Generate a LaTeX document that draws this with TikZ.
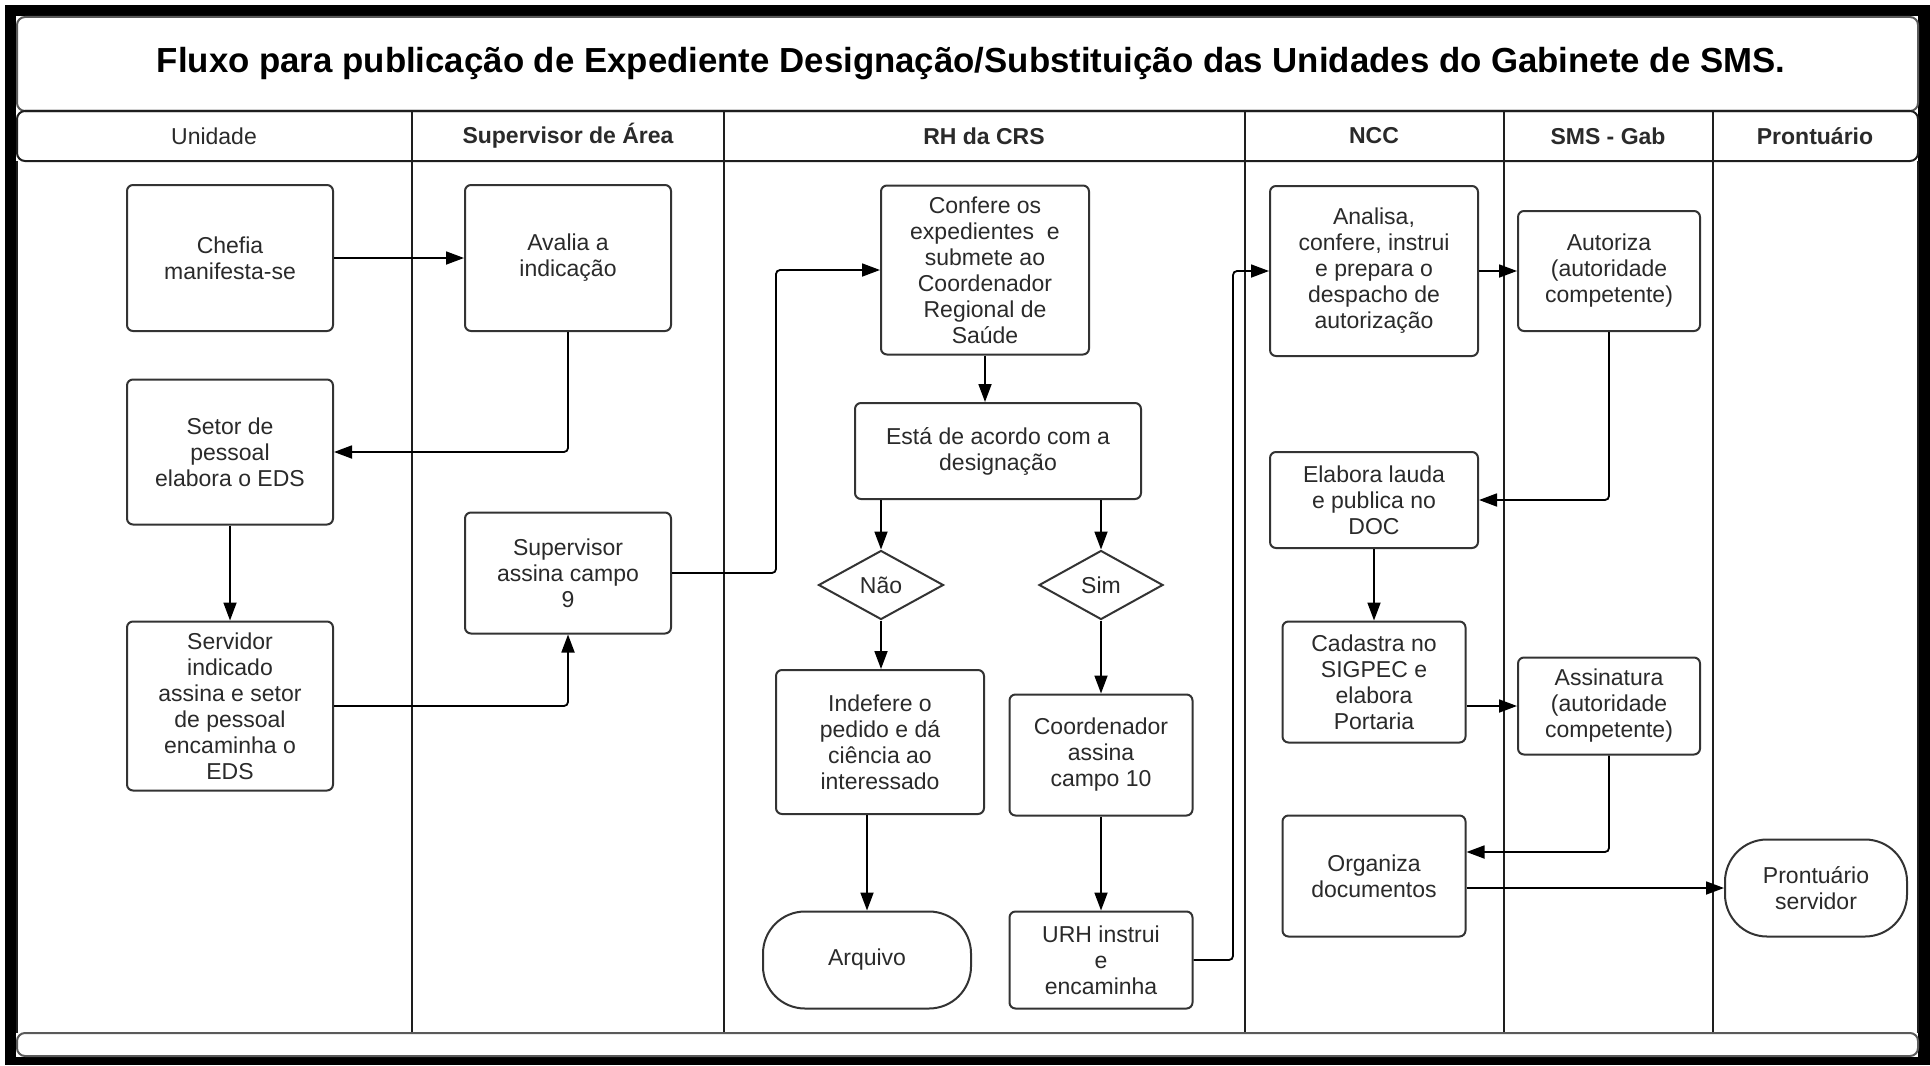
\documentclass[tikz,border=0pt]{standalone}
\usepackage{fontspec}
\setmainfont{Liberation Sans}
\usetikzlibrary{shapes.geometric,arrows.meta}
\definecolor{txt}{HTML}{2A2A2A}
\definecolor{lanec}{HTML}{1E1E1E}
\definecolor{framec}{HTML}{5A5A5A}
\begin{document}
\begin{tikzpicture}[x=0.5pt,y=-0.5pt,
  box/.style={draw=black!80, line width=1pt, rounded corners=3pt, align=center, text=txt,
    font=\fontsize{11.5}{13}\selectfont, inner sep=0pt},
  term/.style={box, rounded corners=21pt},
  dec/.style={box, rounded corners=0pt, shape=diamond, aspect=1.8},
  hdr/.style={text=txt, font=\bfseries\fontsize{11.5}{13}\selectfont},
  lane/.style={draw=lanec, line width=1pt},
  conn/.style={draw=black, line width=0.9pt, rounded corners=2pt,
    -{Triangle[length=9pt,width=6.5pt]}}]
\useasboundingbox (0,0) rectangle (1930,1065);
% outer black frame
\fill[white] (0,0) rectangle (1930,1065);
\fill[black] (5,5) rectangle (1930,1065);
\fill[white] (16,16) rectangle (1918,1057);
% title box and header row
\draw[framec, line width=1pt, rounded corners=4pt] (17,17) rectangle (1918,111);
\draw[lanec, line width=1pt, rounded corners=4pt] (17,111) rectangle (1918,161);
\draw[lane] (17,161) -- (17,1033);
\draw[lane] (1918,161) -- (1918,1033);
\foreach \xx in {412,724,1245,1504,1713} \draw[lane] (\xx,111) -- (\xx,1033);
\draw[framec, line width=1pt, rounded corners=4pt] (17,1033) rectangle (1918,1056);
% title
\node[font=\bfseries\fontsize{17.4}{20}\selectfont, text=black] (title) at (971,64)
  {Fluxo para publicação de Expediente Designação/Substituição das Unidades do Gabinete de SMS.};
% headers
\node[hdr, font=\fontsize{11.5}{13}\selectfont] (h1) at (214,136) {Unidade};
\node[hdr] (h2) at (568,136) {Supervisor de Área};
\node[hdr] (h3) at (984,136) {RH da CRS};
\node[hdr] (h4) at (1374,136) {NCC};
\node[hdr] (h5) at (1608,136) {SMS - Gab};
\node[hdr] (h6) at (1815,136) {Prontuário};
% Unidade
\node[box, minimum width=103pt, minimum height=73pt] (chefia) at (230,258) {Chefia\\manifesta-se};
\node[box, minimum width=103pt, minimum height=72.5pt] (setor) at (230,452) {Setor de\\pessoal\\elabora o EDS};
\node[box, minimum width=103pt, minimum height=84.5pt] (servidor) at (230,706) {Servidor\\indicado\\assina e setor\\de pessoal\\encaminha o\\EDS};
% Supervisor
\node[box, minimum width=103pt, minimum height=73pt] (avalia) at (568,258) {Avalia a\\indicação};
\node[box, minimum width=103pt, minimum height=60.5pt] (supassina) at (568,573) {Supervisor\\assina campo\\9};
% RH da CRS
\node[box, minimum width=104pt, minimum height=84.5pt] (confere) at (985,270) {Confere os\\expedientes~ e\\submete ao\\Coordenador\\Regional de\\Saúde};
\node[box, minimum width=143pt, minimum height=48pt] (esta) at (998,451) {Está de acordo com a\\designação};
\node[dec, minimum width=62.5pt, minimum height=34.5pt] (nao) at (881,585) {Não};
\node[dec, minimum width=62pt, minimum height=34.5pt] (sim) at (1101,585) {Sim};
\node[box, minimum width=104pt, minimum height=72pt] (indefere) at (880,742) {Indefere o\\pedido e dá\\ciência ao\\interessado};
\node[term, minimum width=104pt, minimum height=48.5pt] (arquivo) at (867,960) {Arquivo};
\node[box, minimum width=91.5pt, minimum height=60.5pt] (coord) at (1101,755) {Coordenador\\assina\\campo 10};
\node[box, minimum width=91.5pt, minimum height=48.5pt] (urh) at (1101,960) {URH instrui\\e\\encaminha};
% NCC
\node[box, minimum width=104pt, minimum height=85pt] (analisa) at (1374,271) {Analisa,\\confere, instrui\\e prepara o\\despacho de\\autorização};
\node[box, minimum width=104pt, minimum height=48pt] (elabora) at (1374,500) {Elabora lauda\\e publica no\\DOC};
\node[box, minimum width=91.5pt, minimum height=60.5pt] (cadastra) at (1374,682) {Cadastra no\\SIGPEC e\\elabora\\Portaria};
\node[box, minimum width=91.5pt, minimum height=60.5pt] (organiza) at (1374,876) {Organiza\\documentos};
% SMS - Gab
\node[box, minimum width=91pt, minimum height=60pt] (autoriza) at (1609,271) {Autoriza\\(autoridade\\competente)};
\node[box, minimum width=91pt, minimum height=48.5pt] (assinatura) at (1609,706) {Assinatura\\(autoridade\\competente)};
% Prontuario
\node[term, minimum width=91pt, minimum height=48.5pt] (pront) at (1816,888) {Prontuário\\servidor};
% helper coordinates
\coordinate (k1) at (776,0);
\coordinate (k2) at (1233,0);
% connectors
\draw[conn] (chefia.east) -- (avalia.west);
\draw[conn] (avalia.south) |- (setor.east);
\draw[conn] (setor.south) -- (servidor.north);
\draw[conn] (servidor.east) -| (supassina.south);
\draw[conn] (supassina.east) -- (supassina.east -| k1) -- (k1 |- confere.west) -- (confere.west);
\draw[conn] (confere.south) -- (confere.south |- esta.north);
\draw[conn] (nao.north |- esta.south) -- (nao.north);
\draw[conn] (sim.north |- esta.south) -- (sim.north);
\draw[conn] (nao.south) -- (nao.south |- indefere.north);
\draw[conn] (arquivo.north |- indefere.south) -- (arquivo.north);
\draw[conn] (sim.south) -- (coord.north);
\draw[conn] (coord.south) -- (urh.north);
\draw[conn] (urh.east) -- (urh.east -| k2) -- (k2 |- analisa.west) -- (analisa.west);
\draw[conn] (analisa.east) -- (autoriza.west);
\draw[conn] (autoriza.south) |- (elabora.east);
\draw[conn] (elabora.south) -- (cadastra.north);
\draw[conn] (cadastra.east |- assinatura.west) -- (assinatura.west);
\draw[conn] (assinatura.south) |- ([yshift=12pt]organiza.east);
\draw[conn] (organiza.east |- pront.west) -- (pront.west);
\end{tikzpicture}
\end{document}
